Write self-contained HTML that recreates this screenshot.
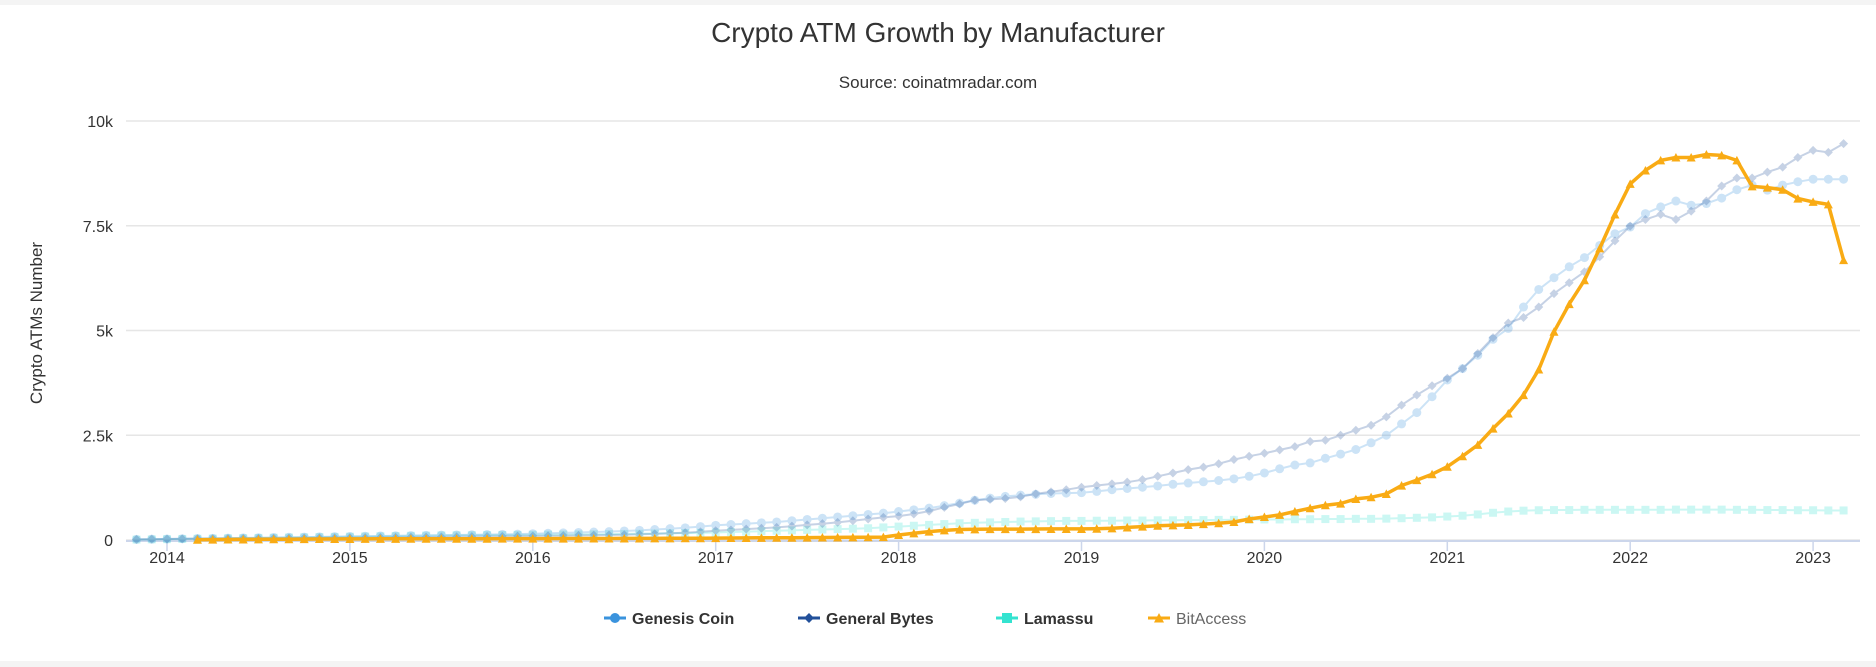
<!DOCTYPE html>
<html><head><meta charset="utf-8">
<style>
html,body{margin:0;padding:0;background:#f4f4f4;}
#wrap{position:absolute;left:0;top:5px;width:1876px;height:656px;background:#fff;}
svg{position:absolute;left:0;top:0;}
text{font-family:"Liberation Sans",sans-serif;}
</style></head>
<body>
<div id="wrap"></div>
<svg id="chart" width="1876" height="667"></svg>
<script>
const startYear = 2013, startMonth = 11; // first point: Nov 2013
const yTicks = [0, 2500, 5000, 7500, 10000];
const yTickLabels = ["0", "2.5k", "5k", "7.5k", "10k"];
const xYears = [2014, 2015, 2016, 2017, 2018, 2019, 2020, 2021, 2022, 2023];
const seriesNames = ["Genesis Coin", "General Bytes", "Lamassu", "BitAccess"];
const genesisCoin = [15,20,
25,30,35,40,45,50,55,60,65,70,75,80,
85,90,95,100,105,110,115,120,125,130,135,140,
150,160,170,180,190,200,215,230,250,270,290,320,
350,370,390,410,430,460,490,520,550,580,610,640,
680,720,760,820,880,950,1000,1040,1070,1090,1110,1120,
1130,1160,1200,1230,1260,1290,1330,1360,1390,1420,1460,1520,
1600,1700,1790,1840,1950,2050,2160,2320,2500,2770,3040,3420,
3820,4090,4410,4790,5050,5560,5980,6260,6520,6740,7030,7310,
7470,7790,7950,8090,7990,8030,8160,8360,8470,8350,8470,8550,
8610,8610,8610];
const generalBytes = [15,20,
25,28,30,32,35,38,40,42,45,48,50,52,
55,58,60,63,66,70,73,76,80,84,88,92,
96,100,105,110,115,120,125,135,145,160,175,195,
220,240,260,280,300,330,360,390,420,460,500,540,
570,620,690,780,860,950,970,990,1030,1100,1150,1200,
1260,1300,1340,1380,1440,1520,1600,1680,1740,1820,1920,2000,
2070,2150,2230,2350,2380,2500,2620,2740,2940,3220,3460,3680,
3860,4090,4450,4830,5180,5310,5560,5880,6140,6400,6760,7140,
7490,7650,7770,7650,7850,8090,8450,8640,8640,8780,8900,9130,
9300,9250,9460];
const lamassu = [10,15,
20,25,30,35,40,45,50,55,60,65,70,75,
80,85,90,95,100,105,110,112,115,118,120,122,
125,128,130,133,136,140,145,150,155,160,165,170,
180,190,200,210,220,230,240,250,260,270,280,300,
320,340,360,380,400,410,420,430,440,445,450,455,
455,460,460,465,465,470,470,475,475,480,480,485,
490,490,495,495,500,500,505,505,510,520,530,540,
560,580,610,650,680,700,710,715,715,720,720,720,
720,720,720,725,725,725,725,720,720,715,715,710,
710,705,705];
const bitAccess = [null,null,
null,null,8,10,12,14,16,18,20,22,24,25,
26,27,28,29,30,30,31,31,32,32,33,33,
34,34,35,35,36,36,37,38,39,40,42,44,
46,48,50,52,54,56,58,60,62,64,66,70,
120,160,200,230,250,255,260,260,260,262,264,265,
265,270,280,300,320,340,350,360,380,400,430,500,
550,600,680,760,830,870,980,1020,1100,1300,1430,1570,
1750,2000,2270,2660,3020,3460,4070,4970,5630,6200,6960,7770,
8500,8820,9060,9130,9130,9200,9180,9060,8440,8410,8360,8150,
8070,8010,6680];

const NS = "http://www.w3.org/2000/svg";
const svg = document.getElementById("chart");
const plotL = 126, plotR = 1860, plotT = 121, plotB = 540;
const x0 = 167, pxPerYear = 182.9;
function xYear(y){ return x0 + (y - 2014) * pxPerYear; }
function xIdx(i){ return xYear(startYear + (startMonth - 1 + i) / 12); }
function yVal(v){ return plotB - v / 10000 * (plotB - plotT); }
function el(tag, attrs, parent){ const e = document.createElementNS(NS, tag); for (const k in attrs) e.setAttribute(k, attrs[k]); (parent || svg).appendChild(e); return e; }

let t = el("text", {x:938, y:42, "text-anchor":"middle", "font-size":"28", fill:"#333"});
t.textContent = "Crypto ATM Growth by Manufacturer";


t = el("text", {x:938, y:88, "text-anchor":"middle", "font-size":"17", fill:"#333"});
t.textContent = "Source: coinatmradar.com";



yTicks.forEach((v, k) => {
  const g = el("line", {x1:plotL, x2:plotR, y1:yVal(v), y2:yVal(v), stroke:"#e6e6e6", "stroke-width":1.5});
  
  
  const lb = el("text", {x:113, y:yVal(v)+6, "text-anchor":"end", "font-size":"16", fill:"#333"});
  lb.textContent = yTickLabels[k];
  
  
});
t = el("text", {x:0, y:0, "text-anchor":"middle", "font-size":"17", fill:"#333", transform:"translate(42,323) rotate(-90)"});
t.textContent = "Crypto ATMs Number";



let ax = el("line", {x1:plotL, x2:plotR, y1:plotB+1, y2:plotB+1, stroke:"#ccd6eb", "stroke-width":2});


xYears.forEach(yr => {
  const x = xYear(yr);
  const tk = el("line", {x1:x, x2:x, y1:plotB, y2:plotB+11, stroke:"#ccd6eb", "stroke-width":1.5});
  
  
  const lb = el("text", {x:x, y:563, "text-anchor":"middle", "font-size":"16", fill:"#333"});
  lb.textContent = String(yr);
  
  
});

function marker(parent, type, x, y, color, s){
  if (type === "circle") return el("circle", {cx:x, cy:y, r:s, fill:color}, parent);
  if (type === "diamond") return el("path", {d:`M${x},${y-s} L${x+s},${y} L${x},${y+s} L${x-s},${y} Z`, fill:color}, parent);
  if (type === "square") return el("rect", {x:x-s, y:y-s, width:2*s, height:2*s, fill:color}, parent);
  return el("path", {d:`M${x},${y-s} L${x+s},${y+s*0.9} L${x-s},${y+s*0.9} Z`, fill:color}, parent);
}
function drawSeries(data, color, type, width, opacity, ms, name){
  const g = el("g", {opacity:opacity});
  
  
  let d = "";
  data.forEach((v, i) => { if (v === null) return; d += (d ? " L" : "M") + xIdx(i).toFixed(1) + "," + yVal(v).toFixed(1); });
  el("path", {d:d, fill:"none", stroke:color, "stroke-width":width, "stroke-linejoin":"round"}, g);
  data.forEach((v, i) => {
    if (v === null) return;
    const m = marker(g, type, xIdx(i), yVal(v), color, ms);
    
    
  });
}
drawSeries(lamassu, "#34e3d0", "square", 2, 0.25, 4, "lamassu-series");
drawSeries(genesisCoin, "#3a93dd", "circle", 2, 0.25, 4.5, "genesis-coin-series");
drawSeries(generalBytes, "#22509a", "diamond", 2, 0.25, 4.5, "general-bytes-series");
drawSeries(bitAccess, "#f9ab14", "triangle", 3.5, 1, 4.5, "bitaccess-series");

const legendX = [604, 798, 996, 1148];
const legendColors = ["#3a93dd", "#22509a", "#34e3d0", "#f9ab14"];
const legendTypes = ["circle", "diamond", "square", "triangle"];
seriesNames.forEach((nm, k) => {
  const g = el("g", {});
  
  
  const x = legendX[k], y = 618;
  el("line", {x1:x, x2:x+22, y1:y, y2:y, stroke:legendColors[k], "stroke-width":3}, g);
  marker(g, legendTypes[k], x+11, y, legendColors[k], 5);
  const tx = el("text", {x:x+28, y:y+6, "font-size":"16", "font-weight":k===3?"normal":"bold", fill:k===3?"#666":"#333"}, g);
  tx.textContent = nm;
});
</script>
</body></html>
